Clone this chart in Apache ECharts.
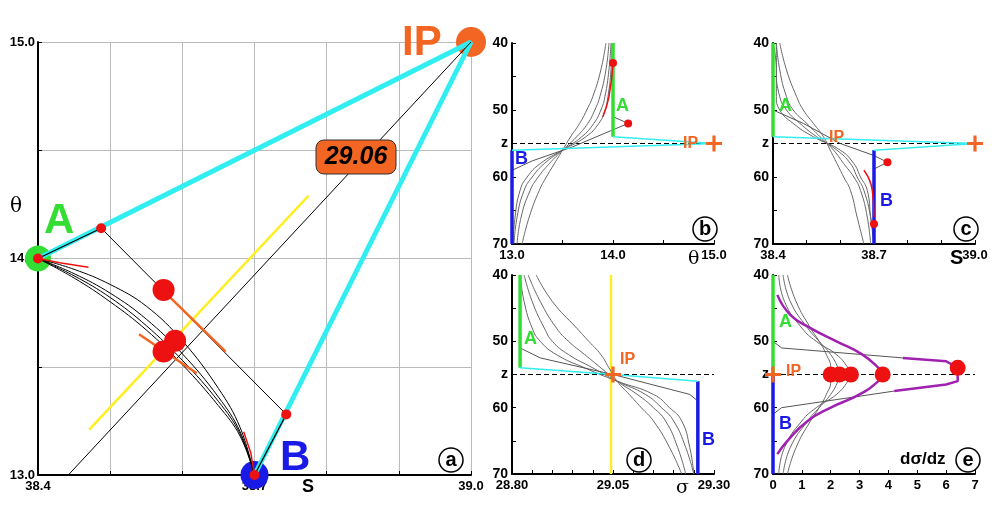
<!DOCTYPE html>
<html><head><meta charset="utf-8">
<script src="https://cdn.jsdelivr.net/npm/echarts@6/dist/echarts.min.js"></script>
<style>html,body{margin:0;background:#fff}#c{width:998px;height:523px}</style>
</head><body><div id="c"></div>
<script>
// ---- data ----
const Z = [40,44,48,50,52,54,56,58,60,62,66,70];
const theta1 = [13.93,13.88,13.80,13.74,13.67,13.58,13.50,13.42,13.34,13.27,13.17,13.10];
const theta2 = [13.96,13.93,13.87,13.82,13.75,13.64,13.50,13.37,13.26,13.18,13.09,13.05];
const theta3 = [13.98,13.96,13.92,13.88,13.81,13.69,13.50,13.32,13.20,13.12,13.05,13.02];
const theta4 = [13.99,13.98,13.95,13.92,13.86,13.73,13.50,13.28,13.15,13.08,13.03,13.01];
const sal1 = [38.42,38.44,38.47,38.49,38.52,38.55,38.57,38.59,38.61,38.63,38.65,38.67];
const sal2 = [38.41,38.42,38.44,38.46,38.50,38.54,38.58,38.61,38.64,38.66,38.68,38.69];
const sal3 = [38.41,38.41,38.42,38.44,38.48,38.53,38.59,38.63,38.65,38.67,38.69,38.70];
const sal4 = [38.40,38.41,38.41,38.42,38.46,38.52,38.60,38.64,38.66,38.68,38.69,38.70];
const sig1 = [28.86,28.90,28.96,28.99,29.02,29.04,29.06,29.09,29.12,29.15,29.19,29.22];
const sig2 = [28.84,28.87,28.91,28.94,28.98,29.02,29.06,29.11,29.15,29.18,29.21,29.23];
const sig3 = [28.83,28.85,28.88,28.90,28.94,29.00,29.06,29.13,29.17,29.20,29.23,29.25];
const sig4 = [28.82,28.83,28.85,28.87,28.91,28.98,29.06,29.15,29.19,29.22,29.24,29.25];
const ZE = [40,44,48,50,52,54,55,56,58,60,62,66,70];
const dsig1 = [0.5,0.8,1.3,1.6,1.85,2.0,2.0,2.0,1.85,1.6,1.3,0.8,0.5];
const dsig2 = [0.35,0.6,1.2,1.6,2.0,2.25,2.3,2.25,2.0,1.6,1.2,0.6,0.35];
const dsig3 = [0.2,0.4,1.0,1.5,2.2,2.6,2.7,2.6,2.2,1.5,1.0,0.4,0.2];
const ZP = [43,46,48,50,52,54,55,56,58,60,62,65,67];
const dsigP = [0.15,0.6,1.3,2.2,3.1,3.65,3.8,3.65,3.0,2.0,1.2,0.5,0.15];
const peakVals = [2.0,2.3,2.7,3.8];
// T-S curves (panel a)
const tsS = [38.4,38.45,38.5,38.55,38.6,38.65,38.68,38.7];
const tsT1 = [14,13.95,13.88,13.78,13.62,13.40,13.22,13.0];
const tsT2 = [14,13.93,13.84,13.72,13.56,13.36,13.20,13.0];
const tsT3 = [14,13.92,13.82,13.69,13.53,13.34,13.19,13.0];
const tsT4 = [14,13.91,13.80,13.67,13.51,13.32,13.18,13.0];
const pA = [38.4,14.0], pB = [38.7,13.0], pIP = [39.0,15.0];
const mixTop = [38.4875,14.14], mixBot = [38.744,13.28];
const isoLine = [[39.0,15.0],[38.442,13.0]];
const yellowA = [[38.471,13.21],[38.775,14.29]];
const orangeSeg = [[38.583,13.82],[38.66,13.57]];
const orangeSeg2 = [[38.54,13.65],[38.62,13.47]];
const bigDots = [[38.574,13.855],[38.59,13.62],[38.574,13.57]];
const stepB = [[14.0,40],[14.0,51],[14.15,52],[13.6,55.5],[13.2,57.6],[13.0,59]];
const stepC = [[38.4,50],[38.49,52],[38.6,55],[38.7,56.8],[38.74,57.8],[38.7,58.8]];
const stepD = [[28.82,51],[28.87,52.5],[29.05,55],[29.24,58],[29.26,59]];
const stepE1 = [[0,50],[0.3,51],[4.5,52.5]];
const spikeE = [[4.5,52.5],[6.0,53],[6.4,54],[6.4,56],[6.0,56.5],[4.2,57.5]];
const stepE2 = [[4.2,57.5],[0.3,60],[0,61]];

// ---- helpers ----
const zip = (a,b)=>a.map((v,i)=>[v,b[i]]);
const C = {cyan:'#33eef0',green:'#33dd33',blue:'#1a1ae6',orange:'#f26522',red:'#ee1111',purple:'#a020b0',yellow:'#ffee22',gray:'#555'};
const S = [];
function line(g,data,color,width,opt){S.push(Object.assign({type:'line',xAxisIndex:g,yAxisIndex:g,data,symbol:'none',silent:true,z:3,
  lineStyle:{color,width}},opt||{}));}
function dots(g,data,color,size,opt){S.push(Object.assign({type:'scatter',xAxisIndex:g,yAxisIndex:g,data,symbolSize:size,silent:true,z:6,
  itemStyle:{color,opacity:1}},opt||{}));}
const lab = {fontFamily:'Arial',fontWeight:'bold',fontSize:13,color:'#000'};

// panel a
line(0,[pA,pIP,pB],C.cyan,5);
line(0,[pA,mixTop],'#000',1.2,{z:4});
line(0,[mixTop,mixBot],'#000',1,{z:4});
line(0,[mixBot,pB],'#000',1.2,{z:4});
line(0,isoLine,'#000',1);
line(0,yellowA,C.yellow,2.5);
line(0,orangeSeg,C.orange,2.5,{z:4});
line(0,orangeSeg2,C.orange,2.5,{z:4});
[tsT1,tsT2,tsT3,tsT4].forEach(t=>line(0,zip(tsS,t),'#000',1,{smooth:0.4}));
line(0,[[38.7,13.0],[38.695,13.1],[38.685,13.2]],C.red,1.5,{z:5});
line(0,[[38.4,14.0],[38.43,13.98],[38.47,13.96]],C.red,1.5,{z:5});
dots(0,[pA],C.green,26,{z:2});
dots(0,[pB],C.blue,28,{z:2});
dots(0,[pIP],C.orange,30,{z:2});
dots(0,[pA,pB,mixTop,mixBot],C.red,10);
dots(0,bigDots,C.red,22);

// panel b,c,d common
const profs = [
 [1,[theta1,theta2,theta3,theta4],[14.0,13.0,15.0],stepB],
 [2,[sal1,sal2,sal3,sal4],[38.4,38.7,39.0],stepC],
 [3,[sig1,sig2,sig3,sig4],[28.82,29.26,29.05],stepD]];
profs.forEach(([g,arrs,[a,b,ip],step])=>{
  arrs.forEach(arr=>line(g,zip(arr,Z),'#666',1,{smooth:true}));
  line(g,step,'#555',1);
  line(g,[[a,40],[a,54]],C.green,3.5,{z:4});
  line(g,[[b,56],[b,70]],C.blue,3.5,{z:4});
  line(g,[[a,54],[ip,55],[b,56]],C.cyan,1.5,{z:4});
  dots(g,[[ip,55]],C.orange,16,{symbol:'path://M4,0H6V4H10V6H6V10H4V6H0V4H4Z'});
});
line(3,[[29.045,40],[29.045,70]],C.yellow,2.5,{z:2});
line(1,[[14.0,43],[13.96,48],[13.9,51]],C.red,1.5,{smooth:true,z:5});
dots(1,[[14.0,43],[14.15,52]],C.red,8);
line(2,[[38.67,59],[38.695,62],[38.7,66]],C.red,1.5,{smooth:true,z:5});
dots(2,[[38.74,57.8],[38.7,67]],C.red,8);

// panel e
[dsig1,dsig2,dsig3].forEach(arr=>line(4,zip(arr,ZE),'#666',1,{smooth:true}));
line(4,zip(dsigP,ZP),C.purple,2.5,{smooth:true,z:4});
line(4,stepE1,'#555',1);
line(4,spikeE,C.purple,2.5,{z:4});
line(4,stepE2,'#555',1);
line(4,[[0,40],[0,55]],C.green,3.5,{z:4});
line(4,[[0,55],[0,70]],C.blue,3.5,{z:4});
dots(4,peakVals.map(v=>[v,55]).concat([[6.4,54]]),C.red,16);
dots(4,[[0,55]],C.orange,16,{symbol:'path://M4,0H6V4H10V6H6V10H4V6H0V4H4Z'});

// dashed z line
[1,2,3,4].forEach(g=>{
  const xs=[[13,15],[38.4,39.0],[28.8,29.3],[0,7]][g-1];
  line(g,[[xs[0],55],[xs[1],55]],'#000',1.2,{lineStyle:{color:'#000',width:1.2,type:[5,3]},z:2});
});

// ---- axes ----
const grids=[{left:38,top:42,width:433,height:433},{left:512,top:43,width:202,height:201},{left:773,top:43,width:202,height:201},
 {left:512,top:275,width:202,height:199},{left:773,top:275,width:202,height:199}];
function xa(g,min,max,interval,show,dec,split){return {type:'value',gridIndex:g,min,max,interval,
  axisLine:{onZero:false,lineStyle:{color:'#000',width:2}},axisTick:{inside:true,length:4,lineStyle:{color:'#000'}},
  splitLine:{show:!!split,lineStyle:{color:'#bbb'}},
  axisLabel:Object.assign({},lab,{margin:5,formatter:v=>show.some(s=>Math.abs(s-v)<1e-6)?v.toFixed(dec):''})};}
function za(g){return {type:'value',gridIndex:g,min:40,max:70,interval:5,inverse:true,
  axisLine:{onZero:false,lineStyle:{color:'#000',width:2}},axisTick:{inside:true,length:4,lineStyle:{color:'#000'}},splitLine:{show:false},
  axisLabel:Object.assign({},lab,{fontSize:14,margin:4,formatter:v=>v===55?'z':(v%10===0?String(v):'')})};}
const xAxis=[xa(0,38.4,39.0,0.1,[38.4,38.7,39.0],1,true),xa(1,13,15,0.5,[13,14,15],1),xa(2,38.4,39.0,0.1,[38.4,38.7,39.0],1),
 xa(3,28.8,29.3,0.05,[28.8,29.05,29.3],2),xa(4,0,7,1,[0,1,2,3,4,5,6,7],0)];
const yAxis=[{type:'value',gridIndex:0,min:13,max:15,interval:0.5,
  axisLine:{onZero:false,lineStyle:{color:'#000',width:2}},axisTick:{inside:true,length:4,lineStyle:{color:'#000'}},splitLine:{lineStyle:{color:'#bbb'}},
  axisLabel:Object.assign({},lab,{margin:3,formatter:v=>v%1===0?v.toFixed(1):''})},za(1),za(2),za(3),za(4)];

// ---- text ----
const T=(x,y,text,size,color,extra)=>({type:'text',left:x,top:y,z:20,style:Object.assign({text,fill:color||'#000',font:'bold '+size+'px Arial'},extra||{})});
const circ=(x,y,t)=>[{type:'circle',shape:{cx:x,cy:y,r:12},style:{fill:'#fff',stroke:'#000',lineWidth:1.5},z:20},
 {type:'text',x:x,y:y,z:21,style:{text:t,font:'bold 20px Arial',fill:'#000',align:'center',verticalAlign:'middle'}}];
const graphic=[
 T(44,200,'A',42,C.green),T(280,437,'B',42,C.blue),T(402,22,'IP',42,C.orange),
 {type:'text',left:10,top:197,z:20,style:{text:'θ',font:'20px "DejaVu Serif"',fill:'#000'}},
 T(302,478,'S',18,'#000'),
 {type:'rect',shape:{x:316,y:140,width:80,height:34,r:8},style:{fill:C.orange,stroke:'#333',lineWidth:1},z:20},
 {type:'text',x:356,y:157,z:21,style:{text:'29.06',font:'italic bold 25px Arial',fill:'#000',align:'center',verticalAlign:'middle'}},
 T(616,97,'A',18,C.green),T(515,150,'B',18,C.blue),T(683,136,'IP',16,C.orange),
 T(779,97,'A',18,C.green),T(880,192,'B',18,C.blue),T(829,130,'IP',16,C.orange),
 T(524,330,'A',18,C.green),T(702,431,'B',18,C.blue),T(620,352,'IP',16,C.orange),
 T(779,313,'A',18,C.green),T(779,415,'B',18,C.blue),T(786,364,'IP',16,C.orange),
 {type:'text',left:688,top:250,z:20,style:{text:'θ',font:'19px "DejaVu Serif"',fill:'#000'}},
 T(950,248,'S',20,'#000'),
 {type:'text',left:676,top:479,z:20,style:{text:'σ',font:'19px "DejaVu Serif"',fill:'#000'}},
 {type:'text',left:900,top:451,z:20,style:{text:'dσ/dz',font:'bold 17px Arial',fill:'#000'}},
 ...circ(451,460,'a'),...circ(705,229,'b'),...circ(966,229,'c'),...circ(639,460,'d'),...circ(968,460,'e')];

const chart=echarts.init(document.getElementById('c'),null,{renderer:'canvas'});
chart.setOption({animation:false,grid:grids,xAxis,yAxis,series:S,graphic});
</script></body></html>
